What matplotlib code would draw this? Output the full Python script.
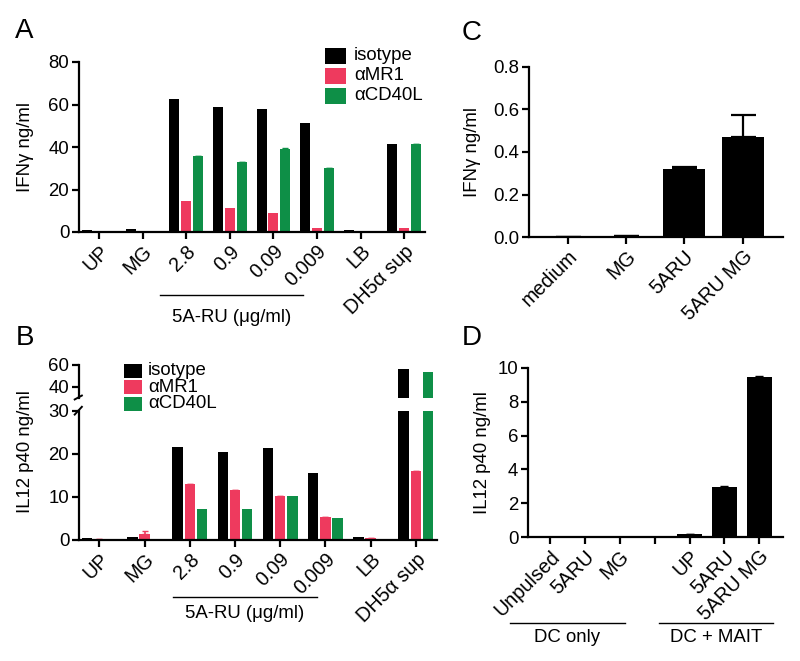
import matplotlib
matplotlib.use("Agg")
import matplotlib.pyplot as plt
import numpy as np
from matplotlib.patches import Rectangle
from matplotlib.lines import Line2D

plt.rcParams['font.family'] = ['Liberation Sans', 'DejaVu Sans']

# ---------------- data ----------------
ab_categories = ["UP", "MG", "2.8", "0.9", "0.09", "0.009", "LB", "DH5\u03b1 sup"]
series_names = ["isotype", "\u03b1MR1", "\u03b1CD40L"]
series_colors = ["#000000", "#EE3A5E", "#0E8F47"]

a_isotype = [0.8, 1.2, 62.5, 59.0, 58.0, 51.5, 1.0, 41.3]
a_amr1 = [0.0, 0.0, 14.5, 11.5, 9.0, 2.0, 0.0, 2.0]
a_acd40l = [0.0, 0.0, 36.0, 33.0, 39.0, 30.0, 0.0, 41.5]
a_err_acd40l = [0, 0, 0, 0, 0.6, 0, 0, 0]

b_isotype = [0.5, 0.8, 21.5, 20.5, 21.4, 15.6, 0.7, 56.0]
b_amr1 = [0.3, 1.5, 12.9, 11.6, 10.2, 5.4, 0.4, 16.0]
b_acd40l = [0.1, 0.2, 7.1, 7.1, 10.1, 5.1, 0.3, 53.3]
b_err_amr1 = [0, 0.7, 0, 0, 0, 0, 0, 0]

c_categories = ["medium", "MG", "5ARU", "5ARU MG"]
c_values = [0.003, 0.005, 0.319, 0.472]
c_err = [0.0, 0.0, 0.012, 0.101]

d_categories = ["Unpulsed", "5ARU", "MG", "", "UP", "5ARU", "5ARU MG"]
d_values = [0.0, 0.0, 0.0, 0.0, 0.18, 2.95, 9.47]
d_err = [0, 0, 0, 0, 0.02, 0.05, 0.03]

W, H = 800, 661
fig = plt.figure(figsize=(8.0, 6.61), dpi=100)

def fx(px):
    return px / W

def fy(py):
    return 1 - py / H

def rect(l, r, top, bottom):
    return [fx(l), fy(bottom), fx(r) - fx(l), fy(top) - fy(bottom)]

FS = 13.4
XFS = 14.2
LW = 1.6

def style_ax(ax, bottom=True):
    for s in ['top', 'right']:
        ax.spines[s].set_visible(False)
    ax.spines['left'].set_linewidth(LW)
    ax.spines['bottom'].set_linewidth(LW)
    if not bottom:
        ax.spines['bottom'].set_visible(False)
    ax.tick_params(axis='both', direction='out', length=5, width=LW, labelsize=FS, pad=2)

def xlabels(ax, labels):
    ax.set_xticks(range(len(labels)))
    ax.set_xticklabels(labels, rotation=45, ha='right', va='top', rotation_mode='anchor', fontsize=XFS)

bw = 0.23
off = 0.27

# ---------------- Panel A ----------------
axA = fig.add_axes(rect(79, 425, 62, 232))
x = np.arange(len(ab_categories))
for i, (vals, col) in enumerate(zip([a_isotype, a_amr1, a_acd40l], series_colors)):
    axA.bar(x + (i - 1) * off, vals, bw, color=col, linewidth=0)
axA.errorbar(x + off, a_acd40l, yerr=[np.zeros(len(x)), a_err_acd40l], fmt='none',
             ecolor=series_colors[2], elinewidth=1, capsize=2)
axA.set_ylim(0, 80)
axA.set_yticks([0, 20, 40, 60, 80])
axA.set_xlim(-0.46, 7.48)
style_ax(axA)
xlabels(axA, ab_categories)
axA.set_ylabel("IFN\u03b3 ng/ml", fontsize=FS, labelpad=10)

# ---------------- Panel B (broken axis) ----------------
axBl = fig.add_axes(rect(79, 437, 410.7, 540))
axBu = fig.add_axes(rect(79, 437, 365, 397.5))
for ax in (axBl, axBu):
    for i, (vals, col) in enumerate(zip([b_isotype, b_amr1, b_acd40l], series_colors)):
        ax.bar(x + (i - 1) * off, vals, bw, color=col, linewidth=0)
    ax.set_xlim(-0.45, 7.47)
axBl.errorbar(x, b_amr1, yerr=[np.zeros(len(x)), b_err_amr1], fmt='none',
              ecolor=series_colors[1], elinewidth=1.2, capsize=2.5)
axBl.set_ylim(0, 30)
axBl.set_yticks([0, 10, 20, 30])
axBu.set_ylim(30, 60)
axBu.set_yticks([40, 60])
style_ax(axBl)
style_ax(axBu, bottom=False)
axBu.set_xticks([])
xlabels(axBl, ab_categories)
# break marks
axBu.plot([-0.012, 0.008], [-0.06, 0.06], transform=axBu.transAxes, color='k', lw=1.4, clip_on=False)
axBl.plot([-0.012, 0.008], [0.97, 1.03], transform=axBl.transAxes, color='k', lw=1.4, clip_on=False)
fig.text(fx(25), fy(452), "IL12 p40 ng/ml", rotation=90, ha='center', va='center', fontsize=FS)

# ---------------- Panel C ----------------
axC = fig.add_axes(rect(529, 783, 66.7, 237.3))
xc = np.arange(len(c_categories))
axC.bar(xc, c_values, 0.715, color='black', linewidth=0)
axC.errorbar(xc, c_values, yerr=[np.zeros(len(xc)), c_err], fmt='none', ecolor='black',
             elinewidth=1.6, capsize=9, capthick=1.6)
axC.set_ylim(0, 0.8)
axC.set_yticks([0.0, 0.2, 0.4, 0.6, 0.8])
axC.set_yticklabels(["0.0", "0.2", "0.4", "0.6", "0.8"])
axC.set_xlim(-0.66, 3.69)
style_ax(axC)
xlabels(axC, c_categories)
axC.set_ylabel("IFN\u03b3 ng/ml", fontsize=FS, labelpad=9)

# ---------------- Panel D ----------------
axD = fig.add_axes(rect(528, 782.7, 367.7, 537.3))
xd = np.arange(len(d_categories))
axD.bar(xd, d_values, 0.72, color='black', linewidth=0)
axD.errorbar(xd, d_values, yerr=[np.zeros(len(xd)), d_err], fmt='none', ecolor='black',
             elinewidth=1.2, capsize=3)
axD.set_ylim(0, 10)
axD.set_yticks([0, 2, 4, 6, 8, 10])
axD.set_xlim(-0.63, 6.67)
style_ax(axD)
xlabels(axD, d_categories)
axD.set_ylabel("IL12 p40 ng/ml", fontsize=FS, labelpad=5)

# ---------------- Legends (manual) ----------------
def legend(x0, pw, ph, centers, tx):
    for c, name, col in zip(centers, series_names, series_colors):
        fig.patches.append(Rectangle((fx(x0), fy(c + ph / 2)), fx(pw), ph / H,
                                     transform=fig.transFigure, color=col, lw=0))
        fig.text(fx(tx), fy(c), name, ha='left', va='center', fontsize=FS)

legend(325, 21, 16, [55.7, 76, 96], 354)
legend(124, 17.7, 14, [370.8, 387.3, 403.7], 148)

# ---------------- Group annotations ----------------
def group(x0, x1, yl, label, yt):
    fig.lines.append(Line2D([fx(x0), fx(x1)], [fy(yl), fy(yl)], transform=fig.transFigure,
                            color='black', lw=1.0))
    fig.text(fx((x0 + x1) / 2), fy(yt), label, ha='center', va='center', fontsize=FS)

group(160, 303, 295, "5A-RU (\u03bcg/ml)", 318)
group(173, 317, 596.7, "5A-RU (\u03bcg/ml)", 614)
group(510, 625, 622.7, "DC only", 637)
group(659, 773, 622.7, "DC + MAIT", 637)

# ---------------- Panel letters ----------------
for lab, px, py in (("A", 15, 38), ("B", 16, 345), ("C", 462, 40), ("D", 462, 345)):
    fig.text(fx(px), fy(py), lab, ha='left', va='baseline', fontsize=20)

fig.savefig("out.png", dpi=100)
